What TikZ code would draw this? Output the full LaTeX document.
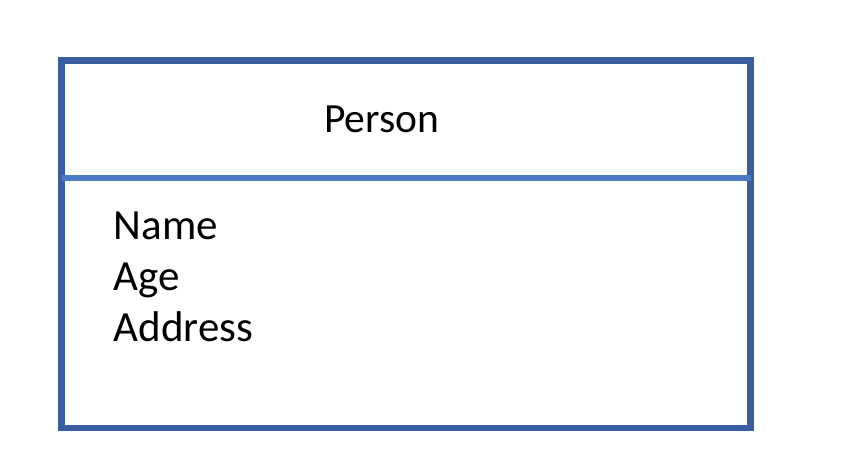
\documentclass[tikz,border=0pt]{standalone}
\usepackage{fontspec}
\setmainfont{Carlito}
\definecolor{boxblue}{HTML}{3A5FA0}
\definecolor{divblue}{HTML}{4A78C2}
\begin{document}
\begin{tikzpicture}[x=1pt,y=-1pt,
  txt/.style={inner sep=0pt,font=\fontsize{43}{51}\selectfont},
  frame/.style={draw=boxblue,line width=6.5pt}]
\useasboundingbox (0,0) rectangle (854,470);
\draw[frame] (61.5,60.5) rectangle (750.5,428);
\coordinate (dl) at (61.5,178);
\coordinate (dr) at (750.5,178);
\draw[divblue,line width=6pt] (dl) -- (dr);
\node[txt,anchor=base,font=\fontsize{41.5}{48}\selectfont] (title) at (381.5,133) {Person};
\node[txt,anchor=base west] (name) at (113.5,239.5) {Name};
\node[txt,anchor=base west] (age) at (113.5,290.5) {Age};
\node[txt,anchor=base west] (addr) at (113.5,341.5) {Address};
\end{tikzpicture}
\end{document}
